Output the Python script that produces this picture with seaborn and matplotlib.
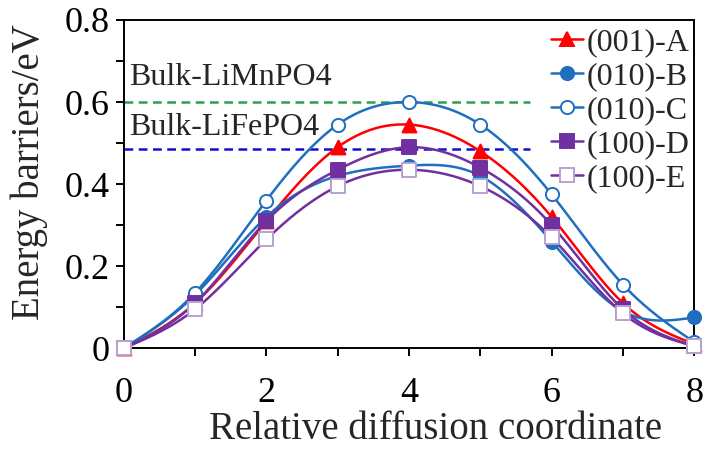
import numpy as np
import pandas as pd
import matplotlib
matplotlib.use("Agg")
import matplotlib.pyplot as plt
import seaborn as sns
from matplotlib.ticker import MultipleLocator, FixedLocator

coord = [0, 1, 2, 3, 4, 5, 6, 7, 8]
a_001 = [0, 0.11, 0.31, 0.49, 0.545, 0.48, 0.32, 0.11, 0.01]
b_010 = [0, 0.13, 0.32, 0.42, 0.445, 0.42, 0.26, 0.09, 0.075]
c_010 = [0, 0.135, 0.36, 0.545, 0.60, 0.545, 0.375, 0.155, 0.015]
d_100 = [0, 0.11, 0.31, 0.435, 0.49, 0.44, 0.30, 0.095, 0.005]
e_100 = [0, 0.095, 0.265, 0.395, 0.435, 0.395, 0.27, 0.085, 0.005]
names = ["(001)-A", "(010)-B", "(010)-C", "(100)-D", "(100)-E"]
bulk_names = ["Bulk-LiMnPO4", "Bulk-LiFePO4"]
bulk_vals = [0.60, 0.485]
xticks = [0, 2, 4, 6, 8]
yticks = [0, 0.2, 0.4, 0.6, 0.8]
xtick_labels = ["0", "2", "4", "6", "8"]
ytick_labels = ["0", "0.2", "0.4", "0.6", "0.8"]

sns.set_style("ticks")
plt.rcParams['font.family'] = ['Liberation Serif', 'DejaVu Serif']


def natural_spline(x, y, xs):
    x = np.asarray(x, float); y = np.asarray(y, float)
    n = len(x)
    h = np.diff(x)
    A = np.zeros((n, n)); r = np.zeros(n)
    A[0, 0] = 1; A[-1, -1] = 1
    for i in range(1, n - 1):
        A[i, i - 1] = h[i - 1]
        A[i, i] = 2 * (h[i - 1] + h[i])
        A[i, i + 1] = h[i]
        r[i] = 3 * ((y[i + 1] - y[i]) / h[i] - (y[i] - y[i - 1]) / h[i - 1])
    c = np.linalg.solve(A, r)
    b = (y[1:] - y[:-1]) / h - h * (2 * c[:-1] + c[1:]) / 3
    d = (c[1:] - c[:-1]) / (3 * h)
    idx = np.clip(np.searchsorted(x, xs) - 1, 0, n - 2)
    t = xs - x[idx]
    return y[idx] + b[idx] * t + c[idx] * t ** 2 + d[idx] * t ** 3


fig = plt.figure(figsize=(7.07, 4.54), dpi=100)
ax = fig.add_axes([0.175, 0.233, 0.807, 0.723])

series = [a_001, b_010, c_010, d_100, e_100]
styles = [
    dict(color="#ff0000", marker="^", fill=True, ms=10),
    dict(color="#1f6fbf", marker="o", fill=True, ms=9.5),
    dict(color="#1f6fbf", marker="o", fill=False, ms=9.5),
    dict(color="#7030a0", marker="s", fill=True, ms=9.5),
    dict(color="#7030a0", marker="s", fill=False, ms=9.5, edge="#b9a0d0"),
]

# bulk reference lines
xs_b = np.array([0, 5.7])
for val, col in zip(bulk_vals, ["#2ca04a", "#1010d0"]):
    dfb = pd.DataFrame({"x": xs_b, "y": [val, val]})
    sns.lineplot(data=dfb, x="x", y="y", ax=ax, color=col, linestyle=(0, (3.5, 2.2)), lw=1.8)
ax.text(0.07, 0.661, bulk_names[0], fontsize=23, va="center", ha="left")
ax.text(0.07, 0.539, bulk_names[1], fontsize=23, va="center", ha="left")

xs = np.linspace(0, 8, 400)
handles = []
for name, vals, st in zip(names, series, styles):
    ys = natural_spline(coord, vals, xs)
    dfl = pd.DataFrame({"x": xs, "y": ys})
    sns.lineplot(data=dfl, x="x", y="y", ax=ax, color=st["color"], lw=1.8)
    dfp = pd.DataFrame({"x": coord, "y": vals})
    edge = st.get("edge", st["color"])
    fc = st["color"] if st["fill"] else "white"
    sns.scatterplot(data=dfp, x="x", y="y", ax=ax, marker=st["marker"], s=st["ms"] ** 2,
                    facecolor=fc, edgecolor=edge, linewidth=1.4, zorder=5, clip_on=False)
    h, = ax.plot([], [], color=st["color"], lw=1.8, marker=st["marker"], ms=st["ms"],
                 markerfacecolor=fc, markeredgecolor=edge, markeredgewidth=1.4)
    handles.append(h)

ax.set_xlim(0, 8)
ax.set_ylim(0, 0.8)
ax.xaxis.set_major_locator(FixedLocator(xticks))
ax.xaxis.set_minor_locator(FixedLocator([1, 3, 5, 7]))
ax.yaxis.set_major_locator(FixedLocator(yticks))
ax.yaxis.set_minor_locator(MultipleLocator(0.1))
ax.set_xticklabels(xtick_labels)
ax.set_yticklabels(ytick_labels)
ax.tick_params(which="both", direction="out", length=6, width=1.4, labelsize=26, colors="black")
ax.tick_params(axis="x", pad=15)
ax.tick_params(axis="y", pad=4)
for sp in ax.spines.values():
    sp.set_visible(True)
    sp.set_linewidth(1.4)
    sp.set_color("black")
ax.set_xlabel("Relative diffusion coordinate", fontsize=28)
ax.set_ylabel("Energy barriers/eV", fontsize=28)
ax.xaxis.set_label_coords(0.547, -0.19)
ax.yaxis.set_label_coords(-0.133, 0.535)

ax.legend(handles, names, loc="upper right", bbox_to_anchor=(1.025, 1.035), frameon=False,
          fontsize=23, handlelength=1.0, handletextpad=0.1, labelspacing=0.15, borderaxespad=0.2)

fig.savefig("out.png", dpi=100)
